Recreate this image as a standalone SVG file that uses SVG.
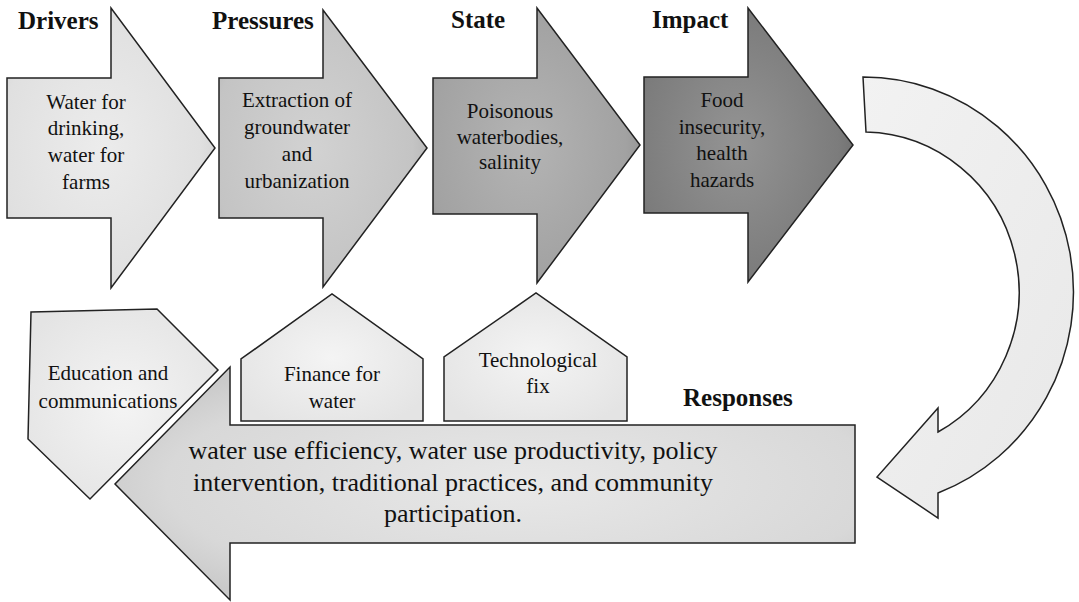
<svg xmlns="http://www.w3.org/2000/svg" width="1079" height="602" viewBox="0 0 1079 602">
  <defs>
    <radialGradient id="gDrivers" cx="0.45" cy="0.5" r="0.6">
      <stop offset="0" stop-color="#ececec"/>
      <stop offset="0.8" stop-color="#e0e0e0"/>
      <stop offset="1" stop-color="#d2d2d2"/>
    </radialGradient>
    <radialGradient id="gPressures" cx="0.45" cy="0.5" r="0.6">
      <stop offset="0" stop-color="#d2d2d2"/>
      <stop offset="0.8" stop-color="#c4c4c4"/>
      <stop offset="1" stop-color="#b4b4b4"/>
    </radialGradient>
    <radialGradient id="gState" cx="0.45" cy="0.5" r="0.6">
      <stop offset="0" stop-color="#b4b4b4"/>
      <stop offset="0.8" stop-color="#a2a2a2"/>
      <stop offset="1" stop-color="#929292"/>
    </radialGradient>
    <radialGradient id="gImpact" cx="0.45" cy="0.5" r="0.6">
      <stop offset="0" stop-color="#949494"/>
      <stop offset="0.8" stop-color="#7c7c7c"/>
      <stop offset="1" stop-color="#6c6c6c"/>
    </radialGradient>
    <radialGradient id="gLight" cx="0.5" cy="0.5" r="0.6">
      <stop offset="0" stop-color="#f4f4f4"/>
      <stop offset="1" stop-color="#e4e4e4"/>
    </radialGradient>
    <radialGradient id="gResp" cx="0.55" cy="0.5" r="0.6">
      <stop offset="0" stop-color="#e8e8e8"/>
      <stop offset="0.8" stop-color="#d8d8d8"/>
      <stop offset="1" stop-color="#cacaca"/>
    </radialGradient>
    <linearGradient id="gCycle" x1="0" y1="0" x2="1" y2="1">
      <stop offset="0" stop-color="#f2f2f2"/>
      <stop offset="1" stop-color="#e8e8e8"/>
    </linearGradient>
  </defs>
  <style>
    .shape { stroke: #222222; stroke-width: 1.5; stroke-linejoin: miter; }
    .title { font-weight: bold; font-size: 25px; fill: #111111; }
    .body { font-size: 21px; fill: #111111; text-anchor: middle; }
    .big { font-size: 26px; fill: #111111; text-anchor: middle; }
  </style>

  <rect width="1079" height="602" fill="#ffffff"/>

  <g font-family="'Liberation Serif', Tinos, 'Times New Roman', Times, serif" font-style="normal">

  <!-- Stage titles -->
  <text class="title" x="18" y="29">Drivers</text>
  <text class="title" x="212" y="29">Pressures</text>
  <text class="title" x="451" y="28">State</text>
  <text class="title" x="652" y="28">Impact</text>
  <text class="title" x="683" y="406">Responses</text>

  <!-- Connectors: loop-back arrow from Impact to Responses -->
  <g id="connectors">
    <path class="shape" fill="url(#gCycle)"
          d="M 863,77 A 210 215 0 0 1 938,493 L 938,518 L 877,477 L 938,408 L 938,432 A 157 160 0 0 0 866,132 Z"/>
  </g>

  <!-- Drivers -->
  <g id="drivers">
    <path class="shape" fill="url(#gDrivers)" d="M 7,78 L 111,78 L 111,8 L 215,148 L 111,288 L 111,218 L 7,218 Z"/>
    <text class="body" font-weight="normal" x="86" y="109">Water for</text>
    <text class="body" font-weight="normal" x="86" y="135">drinking,</text>
    <text class="body" font-weight="normal" x="86" y="162">water for</text>
    <text class="body" font-weight="normal" x="86" y="189">farms</text>
  </g>

  <!-- Pressures -->
  <g id="pressures">
    <path class="shape" fill="url(#gPressures)" d="M 219,78 L 323,78 L 323,10 L 427,148 L 323,287 L 323,218 L 219,218 Z"/>
    <text class="body" font-weight="normal" x="297" y="107">Extraction of</text>
    <text class="body" font-weight="normal" x="297" y="134">groundwater</text>
    <text class="body" font-weight="normal" x="297" y="161">and</text>
    <text class="body" font-weight="normal" x="297" y="188">urbanization</text>
  </g>

  <!-- State -->
  <g id="state">
    <path class="shape" fill="url(#gState)" d="M 433,78 L 537,78 L 537,8 L 640,145 L 537,283 L 537,214 L 433,214 Z"/>
    <text class="body" font-weight="normal" x="510" y="118">Poisonous</text>
    <text class="body" font-weight="normal" x="510" y="144">waterbodies,</text>
    <text class="body" font-weight="normal" x="510" y="169">salinity</text>
  </g>

  <!-- Impact -->
  <g id="impact">
    <path class="shape" fill="url(#gImpact)" d="M 644,77 L 748,77 L 748,8 L 853,145 L 748,282 L 748,213 L 644,213 Z"/>
    <text class="body" font-weight="normal" x="722" y="107">Food</text>
    <text class="body" font-weight="normal" x="722" y="134">insecurity,</text>
    <text class="body" font-weight="normal" x="722" y="160">health</text>
    <text class="body" font-weight="normal" x="722" y="187">hazards</text>
  </g>

  <!-- Responses -->
  <g id="responses">
    <path class="shape" fill="url(#gResp)" d="M 855,425 L 230,425 L 230,367 L 115,484 L 230,600 L 230,543 L 855,543 Z"/>
    <text class="big" font-weight="normal" x="453" y="459">water use efficiency, water use productivity, policy</text>
    <text class="big" font-weight="normal" x="453" y="491">intervention, traditional practices, and community</text>
    <text class="big" font-weight="normal" x="453" y="522">participation.</text>
  </g>

  <!-- Education and communications -->
  <g id="education">
    <path class="shape" fill="url(#gLight)" d="M 31,312 L 157,309 L 218,370 L 90,499 L 28,439 Z"/>
    <text class="body" font-weight="normal" x="108" y="380">Education and</text>
    <text class="body" font-weight="normal" x="108" y="408">communications</text>
  </g>

  <!-- Finance for water -->
  <g id="finance">
    <path class="shape" fill="url(#gLight)" d="M 241,421 L 241,359 L 332,294 L 423,359 L 423,421 Z"/>
    <text class="body" font-weight="normal" x="332" y="381">Finance for</text>
    <text class="body" font-weight="normal" x="332" y="408">water</text>
  </g>

  <!-- Technological fix -->
  <g id="technological">
    <path class="shape" fill="url(#gLight)" d="M 444,421 L 444,357 L 536,293 L 627,357 L 627,421 Z"/>
    <text class="body" font-weight="normal" x="538" y="367">Technological</text>
    <text class="body" font-weight="normal" x="538" y="393">fix</text>
  </g>

  </g>
</svg>
